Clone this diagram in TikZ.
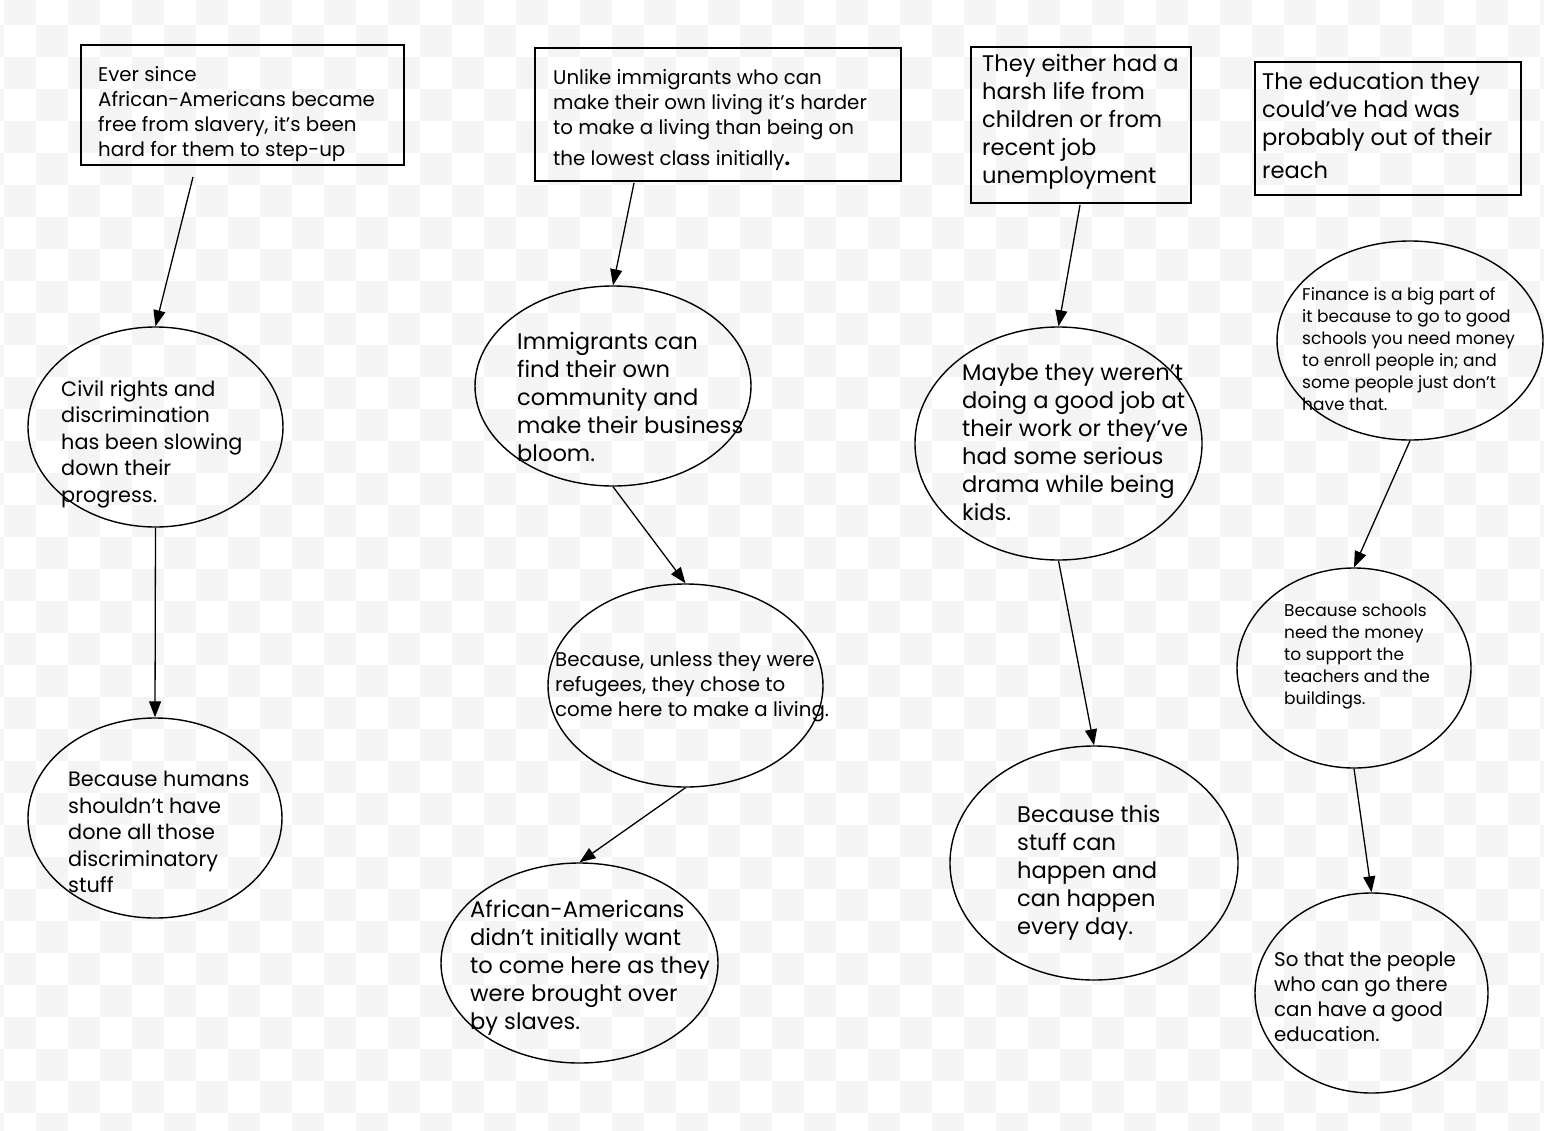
\documentclass[tikz,border=0pt]{standalone}
\usepackage{fontspec}
\setmainfont{Poppins}
\usetikzlibrary{shapes.geometric,arrows.meta}
\definecolor{chk}{RGB}{244,244,244}
\tikzset{
  boxnode/.style={draw=black,line width=1.6pt,rectangle,inner sep=0pt},
  ellnode/.style={draw=black,line width=1.4pt,ellipse,inner sep=0pt},
  txt/.style={anchor=north west,inner sep=0pt,align=left,text=black},
  fs/.style={font=\fontsize{17}{22}\selectfont},
  fm/.style={font=\fontsize{19.8}{25}\selectfont},
  fl/.style={font=\fontsize{22.6}{28}\selectfont},
  fk/.style={font=\fontsize{20.8}{26.5}\selectfont},
  conn/.style={line width=1.3pt,-{Triangle[length=16pt,width=12pt]}},
}
\begin{document}
\begin{tikzpicture}[x=1pt,y=-1pt]
\useasboundingbox (0,0) rectangle (1544,1130);
\fill[white] (0,0) rectangle (1544,1130);
\begin{scope}
\clip (0,0) rectangle (1544,1130);
\foreach \i in {-1,...,48}{
  \foreach \j in {-1,...,34}{
    \pgfmathtruncatemacro{\chkpar}{mod(\i+\j+2,2)}
    \ifnum\chkpar=1 \fill[chk] ({4+32*\i},{25+32*\j}) rectangle ++(32,32); \fi
  }
}
\end{scope}

% boxes
\node[boxnode,minimum width=323pt,minimum height=120pt] (bA) at (242.5,105) {};
\node[boxnode,minimum width=366pt,minimum height=133pt] (bB) at (718,114.5) {};
\node[boxnode,minimum width=220pt,minimum height=156pt] (bC) at (1081,125) {};
\node[boxnode,minimum width=266pt,minimum height=133pt] (bD) at (1388,128.5) {};

\node[txt,fm] (tA) at (98,66) {Ever since\\African-Americans became\\free from slavery, it’s been\\hard for them to step-up};
\node[txt,fm] (tB) at (553,69) {Unlike immigrants who can\\make their own living it’s harder\\to make a living than being on\\[6pt]the lowest class initially\textbf{.}};
\node[txt,fl] (tC) at (982,54) {They either had a\\harsh life from\\children or from\\recent job\\unemployment};
\node[txt,fl] (tD) at (1262,72) {The education they\\could’ve had was\\probably out of their\\[5pt]reach};

% ellipses
\node[ellnode,minimum width=255pt,minimum height=200pt] (e1) at (155.5,427) {};
\node[ellnode,minimum width=254pt,minimum height=200pt] (e2) at (155,818) {};
\node[ellnode,minimum width=276pt,minimum height=200pt] (e3) at (613,386) {};
\node[ellnode,minimum width=275pt,minimum height=203pt] (e4) at (685.5,685.5) {};
\node[ellnode,minimum width=277pt,minimum height=200pt] (e5) at (579.5,963) {};
\node[ellnode,minimum width=287pt,minimum height=233pt] (e6) at (1058.5,443.5) {};
\node[ellnode,minimum width=288pt,minimum height=234pt] (e7) at (1094,863) {};
\node[ellnode,minimum width=266pt,minimum height=199pt] (e8) at (1410,340.5) {};
\node[ellnode,minimum width=234pt,minimum height=200pt] (e9) at (1354,668) {};
\node[ellnode,minimum width=233pt,minimum height=200pt] (e10) at (1371.5,993) {};

\node[txt,fk] (t1) at (61,380) {Civil rights and\\discrimination\\has been slowing\\down their\\progress.};
\node[txt,fk] (t2) at (68,771) {Because humans\\shouldn’t have\\done all those\\discriminatory\\stuff};
\node[txt,fl] (t3) at (517,332) {Immigrants can\\find their own\\community and\\make their business\\bloom.};
\node[txt,fm] (t4) at (555,652) {Because, unless they were\\refugees, they chose to\\come here to make a living.};
\node[txt,fl] (t5) at (470,900) {African-Americans\\didn’t initially want\\to come here as they\\were brought over\\by slaves.};
\node[txt,fl] (t6) at (962,364) {Maybe they weren’t\\doing a good job at\\their work or they’ve\\had some serious\\drama while being\\kids.};
\node[txt,fl] (t7) at (1017,805) {Because this\\stuff can\\happen and\\can happen\\every day.};
\node[txt,fs] (t8) at (1302,287) {Finance is a big part of\\it because to go to good\\schools you need money\\to enroll people in; and\\some people just don’t\\have that.};
\node[txt,fs] (t9) at (1284,604) {Because schools\\need the money\\to support the\\teachers and the\\buildings.};
\node[txt,fm] (t10) at (1274,952) {So that the people\\who can go there\\can have a good\\education.};

% connector start points
\coordinate (sA) at (193,177);
\coordinate (sB) at (634,183);
\coordinate (sC) at (1080,205);

\draw[conn] (sA) -- (e1.north);
\draw[conn] (e1.south) -- (e2.north);
\draw[conn] (sB) -- (e3.north);
\draw[conn] (e3.south) -- (e4.north);
\draw[conn] (e4.south) -- (e5.north);
\draw[conn] (sC) -- (e6.north);
\draw[conn] (e6.south) -- (e7.north);
\draw[conn] (e8.south) -- (e9.north);
\draw[conn] (e9.south) -- (e10.north);
\end{tikzpicture}
\end{document}
